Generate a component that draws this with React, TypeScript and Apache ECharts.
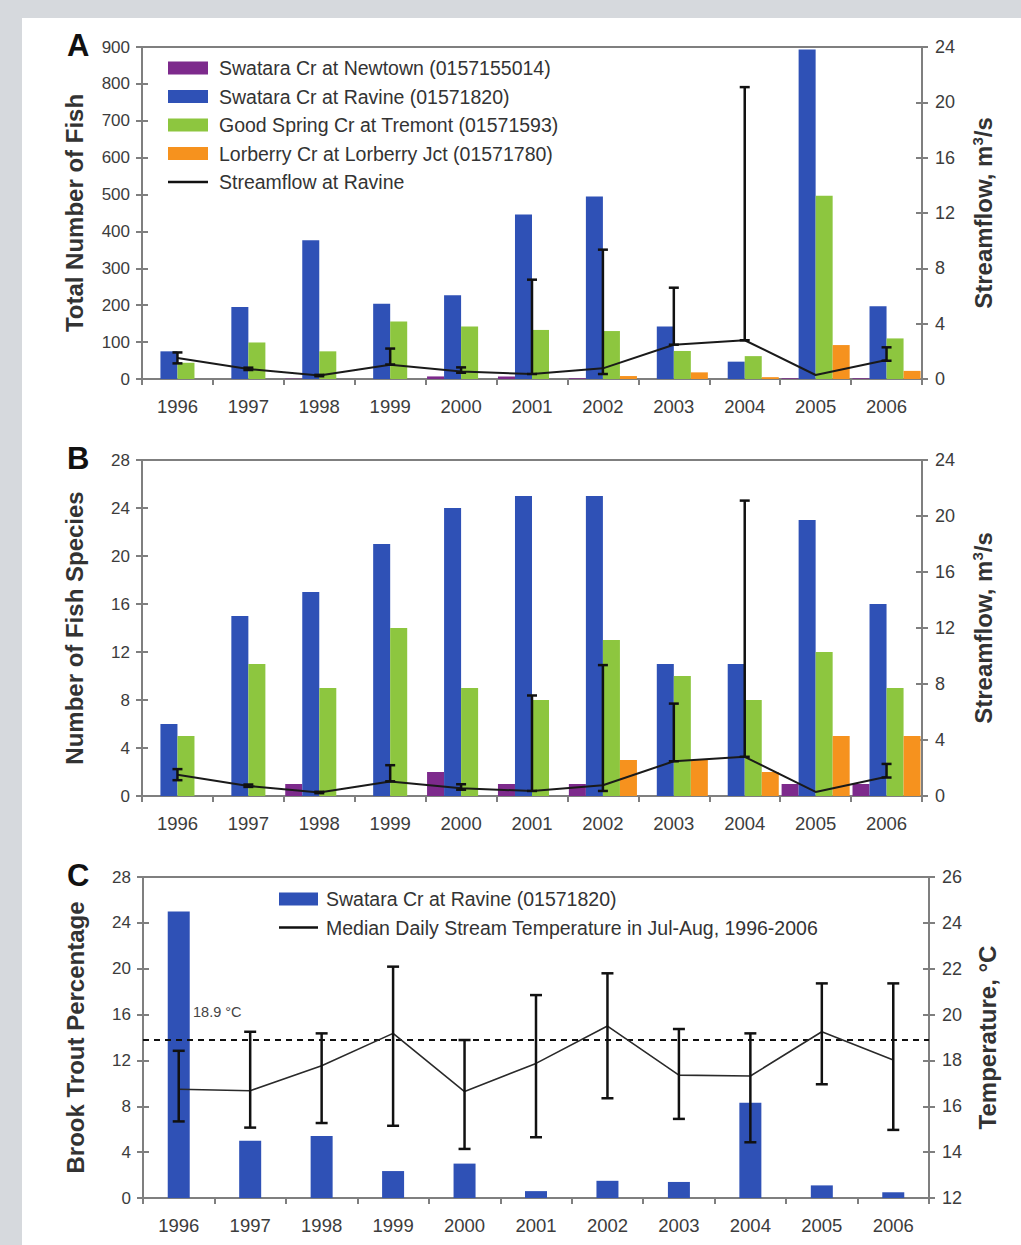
import React, { useEffect, useRef } from "react";
import * as echarts from "echarts";

const years = ["1996", "1997", "1998", "1999", "2000", "2001", "2002", "2003", "2004", "2005", "2006"];

const seriesNames = [
  "Swatara Cr at Newtown (0157155014)",
  "Swatara Cr at Ravine (01571820)",
  "Good Spring Cr at Tremont (01571593)",
  "Lorberry Cr at Lorberry Jct (01571780)",
];
const flowName = "Streamflow at Ravine";
const tempName = "Median Daily Stream Temperature in Jul-Aug, 1996-2006";

// Panel A: total number of fish
const newtownFish = [null, null, 1, null, 7, 7, 2, null, null, 2, 2];
const ravineFish = [75, 195, 376, 204, 227, 446, 495, 142, 47, 893, 197];
const tremontFish = [44, 99, 75, 156, 142, 133, 130, 76, 62, 497, 110];
const lorberryFish = [null, null, null, null, null, null, 8, 18, 5, 92, 22];

// Panel B: number of fish species
const newtownSpecies = [null, null, 1, null, 2, 1, 1, null, null, 1, 1];
const ravineSpecies = [6, 15, 17, 21, 24, 25, 25, 11, 11, 23, 16];
const tremontSpecies = [5, 11, 9, 14, 9, 8, 13, 10, 8, 12, 9];
const lorberrySpecies = [null, null, null, null, null, null, 3, 3, 2, 5, 5];

// Streamflow at Ravine (m3/s) with range
const flow = [1.52, 0.72, 0.25, 1.03, 0.55, 0.36, 0.77, 2.48, 2.8, 0.29, 1.37];
const flowLow = [1.13, 0.65, 0.2, 1.05, 0.45, 0.36, 0.36, 2.48, 2.8, null, 1.32];
const flowHigh = [1.92, 0.82, 0.3, 2.2, 0.84, 7.18, 9.35, 6.6, 21.1, null, 2.29];

// Panel C: brook trout percentage and temperature
const troutPct = [25.0, 5.0, 5.4, 2.35, 3.0, 0.6, 1.5, 1.4, 8.3, 1.1, 0.5];
const temp = [16.74, 16.68, 17.77, 19.18, 16.64, 17.87, 19.5, 17.36, 17.32, 19.25, 18.02];
const tempLow = [15.34, 15.07, 15.27, 15.15, 14.14, 14.65, 16.35, 15.45, 14.43, 16.96, 14.97];
const tempHigh = [18.42, 19.25, 19.18, 22.09, 18.89, 20.85, 21.8, 19.37, 19.18, 21.36, 21.36];
const thresholdTemp = 18.9;
const thresholdLabel = "18.9 °C";

const colors = ["#7d2a8c", "#2f51b6", "#8dc63f", "#f6921e"];
const FONT = "'Liberation Sans', Arial, sans-serif";
const AXIS_COLOR = "#7f7f7f";
const LABEL_COLOR = "#3c3c3c";
const LINE_ICON = "path://M0,0L40,0L40,0.01L0,0.01Z M0,5.2L40,5.2L40,7.8L0,7.8Z M0,13L40,13L40,13.01L0,13.01Z";

function errData(lo: (number | null)[], hi: (number | null)[]) {
  const out: number[][] = [];
  lo.forEach((l, i) => {
    const h = hi[i];
    if (l != null && h != null) out.push([i, l, h]);
  });
  return out;
}

function errSeries(xAxisIndex: number, yAxisIndex: number, data: number[][], cap: number) {
  return {
    type: "custom",
    xAxisIndex,
    yAxisIndex,
    z: 6,
    encode: { x: 0, y: [1, 2] },
    data,
    renderItem: (params: any, api: any) => {
      const i = api.value(0);
      const lo = api.coord([i, api.value(1)]);
      const hi = api.coord([i, api.value(2)]);
      const st = { stroke: "#111", lineWidth: 2.5 };
      return {
        type: "group",
        children: [
          { type: "line", shape: { x1: lo[0], y1: lo[1], x2: hi[0], y2: hi[1] }, style: st },
          { type: "line", shape: { x1: lo[0] - cap, y1: lo[1], x2: lo[0] + cap, y2: lo[1] }, style: st },
          { type: "line", shape: { x1: hi[0] - cap, y1: hi[1], x2: hi[0] + cap, y2: hi[1] }, style: st },
        ],
      };
    },
  };
}

function xAxes(gridIndex: number) {
  const base = {
    type: "category",
    gridIndex,
    data: years,
    boundaryGap: true,
    axisLine: { show: true, lineStyle: { color: AXIS_COLOR, width: 2 } },
    splitLine: { show: false },
  };
  return [
    {
      ...base,
      axisTick: { show: true, length: 6, lineStyle: { color: AXIS_COLOR, width: 2 } },
      axisLabel: { show: true, margin: 18, fontSize: 18.5, color: LABEL_COLOR, fontFamily: FONT },
    },
    {
      ...base,
      axisLine: { show: false },
      axisTick: { show: true, inside: true, length: 6, lineStyle: { color: AXIS_COLOR, width: 2 } },
      axisLabel: { show: false },
    },
  ];
}

function yAxes(
  gridIndex: number,
  position: string,
  min: number,
  max: number,
  interval: number,
  name: string,
  nameGap: number,
  rich?: any
) {
  const base = {
    type: "value",
    gridIndex,
    position,
    min,
    max,
    interval,
    splitLine: { show: false },
    axisLine: { show: true, lineStyle: { color: AXIS_COLOR, width: 2 } },
  };
  return [
    {
      ...base,
      name,
      nameLocation: "middle",
      nameRotate: 90,
      nameGap,
      nameTextStyle: {
        fontSize: 24,
        fontWeight: "bold",
        color: "#333",
        fontFamily: FONT,
        lineHeight: 27,
        rich,
      },
      axisTick: { show: true, length: 6, lineStyle: { color: AXIS_COLOR, width: 2 } },
      axisLabel: {
        show: true,
        margin: position === "left" ? 12 : 13,
        fontSize: position === "left" ? 17 : 18,
        color: LABEL_COLOR,
        fontFamily: FONT,
      },
    },
    {
      ...base,
      axisLine: { show: false },
      axisTick: { show: true, inside: true, length: 6, lineStyle: { color: AXIS_COLOR, width: 2 } },
      axisLabel: { show: false },
    },
  ];
}

const supRich = {
  sup: { fontSize: 15, fontWeight: "bold", color: "#333", fontFamily: FONT, verticalAlign: "top", lineHeight: 15 },
};

export default function App() {
  const ref = useRef<HTMLDivElement>(null);

  useEffect(() => {
    document.body.style.margin = "0";
    if (!ref.current) return;
    const chart = echarts.init(ref.current, null, { renderer: "svg" });

    const grids = [
      { left: 142, top: 47, width: 780, height: 332 },
      { left: 142, top: 460, width: 780, height: 336 },
      { left: 143, top: 877, width: 786, height: 321 },
    ].map((g) => ({ ...g, show: true, borderColor: AXIS_COLOR, borderWidth: 2, backgroundColor: "#fff" }));

    const xAxis = [...xAxes(0), ...xAxes(1), ...xAxes(2)];
    const flowTitle = "Streamflow, m{sup|3}/s";
    const yAxis = [
      ...yAxes(0, "left", 0, 900, 100, "Total Number of Fish", 54),
      ...yAxes(0, "right", 0, 24, 4, flowTitle, 48, supRich),
      ...yAxes(1, "left", 0, 28, 4, "Number of Fish Species", 54),
      ...yAxes(1, "right", 0, 24, 4, flowTitle, 48, supRich),
      ...yAxes(2, "left", 0, 28, 4, "Brook Trout Percentage", 54),
      ...yAxes(2, "right", 12, 26, 2, "Temperature, °C", 45),
    ];

    const barSet = (xi: number, yi: number, data: (number | null)[][]) =>
      data.map((d, k) => ({
        type: "bar",
        name: seriesNames[k],
        xAxisIndex: xi,
        yAxisIndex: yi,
        data: d,
        barGap: "0%",
        barCategoryGap: "4%",
        itemStyle: { color: colors[k] },
      }));

    const flowLine = (xi: number, yi: number) => ({
      type: "line",
      name: flowName,
      xAxisIndex: xi,
      yAxisIndex: yi,
      data: flow,
      symbol: "none",
      z: 5,
      lineStyle: { color: "#1a1a1a", width: 2 },
      itemStyle: { color: "#1a1a1a" },
    });

    const series: any[] = [
      ...barSet(0, 0, [newtownFish, ravineFish, tremontFish, lorberryFish]),
      flowLine(0, 2),
      errSeries(0, 2, errData(flowLow, flowHigh), 5),
      ...barSet(2, 4, [newtownSpecies, ravineSpecies, tremontSpecies, lorberrySpecies]),
      flowLine(2, 6),
      errSeries(2, 6, errData(flowLow, flowHigh), 5),
      {
        type: "bar",
        name: seriesNames[1],
        xAxisIndex: 4,
        yAxisIndex: 8,
        data: troutPct,
        barWidth: 22,
        itemStyle: { color: colors[1] },
      },
      {
        type: "line",
        name: tempName,
        xAxisIndex: 4,
        yAxisIndex: 10,
        data: temp,
        symbol: "none",
        z: 5,
        lineStyle: { color: "#2a2a2a", width: 1.6 },
        itemStyle: { color: "#111" },
        markLine: {
          silent: true,
          symbol: "none",
          label: { show: false },
          lineStyle: { color: "#111", type: [6, 5], width: 2 },
          data: [{ yAxis: thresholdTemp }],
        },
      },
      errSeries(4, 10, errData(tempLow, tempHigh), 6),
    ];

    const legendText = { fontSize: 19.5, color: "#333", fontFamily: FONT, padding: [0, 0, 0, 6] };
    const lineItem = (name: string) => ({ name, icon: LINE_ICON, itemStyle: { color: "#111", borderWidth: 0 } });
    const letterStyle = { fontSize: 31, fontWeight: "bold", color: "#111", fontFamily: FONT };

    chart.setOption({
      animation: false,
      backgroundColor: "#d6d9dd",
      textStyle: { fontFamily: FONT },
      graphic: [
        { type: "rect", shape: { x: 22, y: 18, width: 1021, height: 1245 }, style: { fill: "#ffffff" }, z: -10 },
        {
          type: "text",
          left: 193,
          top: 1004,
          style: { text: thresholdLabel, fontSize: 14.5, fill: "#444", fontFamily: FONT },
        },
      ],
      title: [
        { text: "A", left: 67, top: 30, padding: 0, textStyle: letterStyle },
        { text: "B", left: 67, top: 443, padding: 0, textStyle: letterStyle },
        { text: "C", left: 67, top: 860, padding: 0, textStyle: letterStyle },
      ],
      legend: [
        {
          left: 168,
          top: 58,
          orient: "vertical",
          itemWidth: 40,
          itemHeight: 13,
          itemGap: 8.5,
          padding: 0,
          textStyle: legendText,
          data: [
            { name: seriesNames[0], icon: "rect" },
            { name: seriesNames[1], icon: "rect" },
            { name: seriesNames[2], icon: "rect" },
            { name: seriesNames[3], icon: "rect" },
            lineItem(flowName),
          ],
        },
        {
          left: 279,
          top: 889,
          orient: "vertical",
          itemWidth: 39,
          itemHeight: 13,
          itemGap: 8.5,
          padding: 0,
          textStyle: { ...legendText, padding: [0, 0, 0, 3] },
          data: [{ name: seriesNames[1], icon: "rect" }, lineItem(tempName)],
        },
      ],
      grid: grids,
      xAxis,
      yAxis,
      series,
    });

    return () => chart.dispose();
  }, []);

  return <div ref={ref} style={{ width: 1021, height: 1245 }} />;
}
